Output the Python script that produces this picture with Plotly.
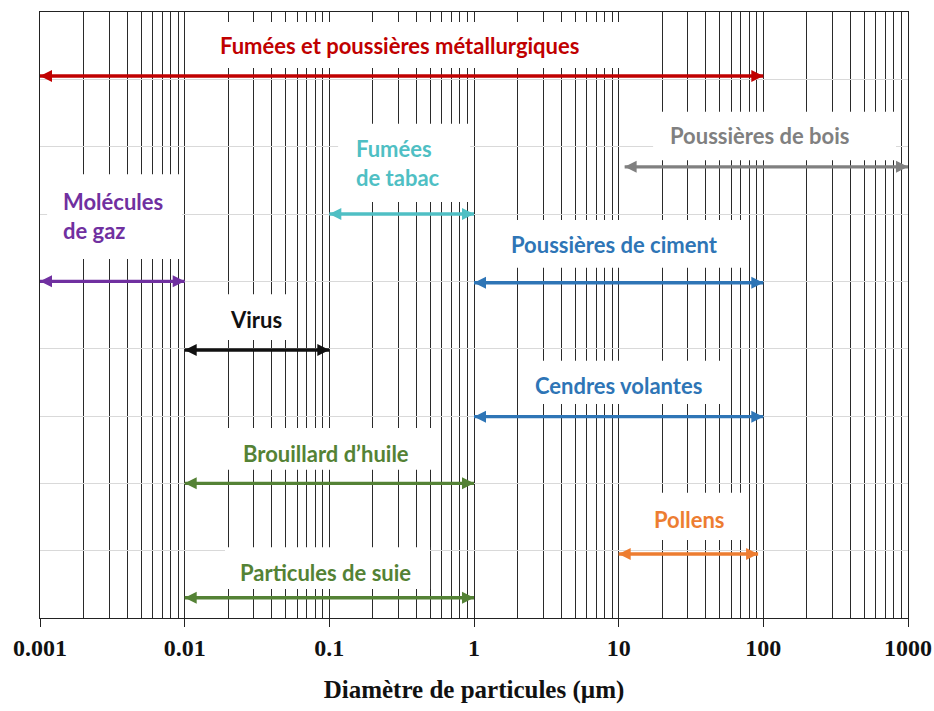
import math
import plotly.graph_objects as go

# Particle families and their diameter ranges (µm)
families = [
    "Fumées et poussières métallurgiques",
    "Poussières de bois",
    "Fumées<br>de tabac",
    "Molécules<br>de gaz",
    "Poussières de ciment",
    "Virus",
    "Cendres volantes",
    "Brouillard d’huile",
    "Pollens",
    "Particules de suie",
]
size_min = [0.001, 11, 0.1, 0.001, 1, 0.01, 1, 0.01, 10, 0.01]
size_max = [100, 1000, 1, 0.01, 100, 0.1, 100, 1, 92, 1]
rows = [8.05, 6.70, 6.0, 5.0, 4.98, 3.98, 2.99, 2.0, 0.95, 0.30]
colors = ["#C00000", "#808080", "#4FBFC4", "#7030A0", "#2E75B6",
          "#111111", "#2E75B6", "#548235", "#ED7D31", "#548235"]

# x axis decades
tick_vals = [0.001, 0.01, 0.1, 1, 10, 100, 1000]
tick_text = ["0.001", "0.01", "0.1", "1", "10", "100", "1000"]
minor_vals = [k * 10 ** e for e in range(-3, 3) for k in range(2, 10)]

# Label placement: (x in µm, y of first line, anchor) ; backdrop boxes: (x0, x1, y0, y1)
label_pos = [
    (0.307, 8.50, "center"),
    (94.8, 7.16, "center"),
    (0.148, 6.97, "left"),
    (0.00139, 6.19, "left"),
    (9.29, 5.54, "center"),
    (0.0311, 4.44, "center"),
    (10.05, 3.45, "center"),
    (0.0948, 2.45, "center"),
    (31.1, 1.47, "center"),
    (0.0948, 0.68, "center"),
]
label_box = [
    (0.0128, 14.0, 8.17, 8.85),
    (17.3, 826, 6.80, 7.52),
    (0.115, 0.94, 6.18, 7.34),
    (0.00112, 0.0096, 5.33, 6.59),
    (1.29, 74.7, 5.20, 5.91),
    (0.0128, 0.0552, 4.13, 4.81),
    (2.25, 56, 3.18, 3.82),
    (0.0128, 0.546, 2.20, 2.82),
    (12, 74.7, 1.16, 1.86),
    (0.019, 0.497, 0.43, 1.05),
]

X_RANGE = [-3, 3]
Y_RANGE = [0, 9]


def to_paper_x(v):
    return (math.log10(v) - X_RANGE[0]) / (X_RANGE[1] - X_RANGE[0])


def to_paper_y(v):
    return (v - Y_RANGE[0]) / (Y_RANGE[1] - Y_RANGE[0])


fig = go.Figure()

# Double-headed range arrows
for name, lo, hi, row, col in zip(families, size_min, size_max, rows, colors):
    fig.add_trace(go.Scatter(
        x=[lo, hi], y=[row, row],
        mode="lines+markers",
        line=dict(color=col, width=3.4),
        marker=dict(symbol=["arrow-left", "arrow-right"], size=12, color=col),
        cliponaxis=False,
        hoverinfo="skip",
        showlegend=False,
        name=name.replace("<br>", " "),
    ))

label_font = "Lato, 'Open Sans', sans-serif"
line_gap = 0.43  # vertical spacing between wrapped label lines (row units)

for name, col, (lx, ly, anchor), (bx0, bx1, by0, by1) in zip(
        families, colors, label_pos, label_box):
    # white backdrop behind each label
    fig.add_shape(
        type="rect", layer="above",
        xref="paper", yref="paper",
        x0=to_paper_x(bx0), x1=to_paper_x(bx1),
        y0=to_paper_y(by0), y1=to_paper_y(by1),
        fillcolor="white", line=dict(width=0),
    )
    lines = name.split("<br>")
    for i, txt in enumerate(lines):
        fig.add_annotation(
            x=math.log10(lx), y=ly - i * line_gap,
            xref="x", yref="y",
            text=f"<b>{txt}</b>", showarrow=False,
            xanchor=anchor, yanchor="middle",
            font=dict(family=label_font, size=22, color=col),
        )

serif = "Liberation Serif, Times New Roman, serif"

fig.update_layout(
    width=934, height=711,
    margin=dict(l=40, r=26, t=12, b=93),
    paper_bgcolor="white", plot_bgcolor="white",
    showlegend=False,
    xaxis=dict(
        type="log", range=X_RANGE, automargin=False,
        tickmode="array", tickvals=tick_vals,
        ticktext=[f"<b>{t}</b>" for t in tick_text],
        showgrid=True, gridcolor="#2a2a2a", gridwidth=1,
        minor=dict(tickmode="array", tickvals=minor_vals, showgrid=True,
                   gridcolor="#2a2a2a", gridwidth=1, ticks=""),
        showline=True, linecolor="#222222", linewidth=1, mirror=True,
        ticks="outside", ticklen=8, tickcolor="#222222",
        tickfont=dict(family=serif, size=24, color="#111111"),
        title=dict(text="<b>Diamètre de particules (µm)</b>",
                   font=dict(family=serif, size=25, color="#111111"),
                   standoff=20),
        zeroline=False,
    ),
    yaxis=dict(
        range=Y_RANGE, dtick=1, showticklabels=False, automargin=False,
        showgrid=True, gridcolor="#d9d9d9", gridwidth=1,
        showline=True, linecolor="#222222", linewidth=1, mirror=True,
        ticks="", zeroline=False,
    ),
)

fig.write_html("out.html")
